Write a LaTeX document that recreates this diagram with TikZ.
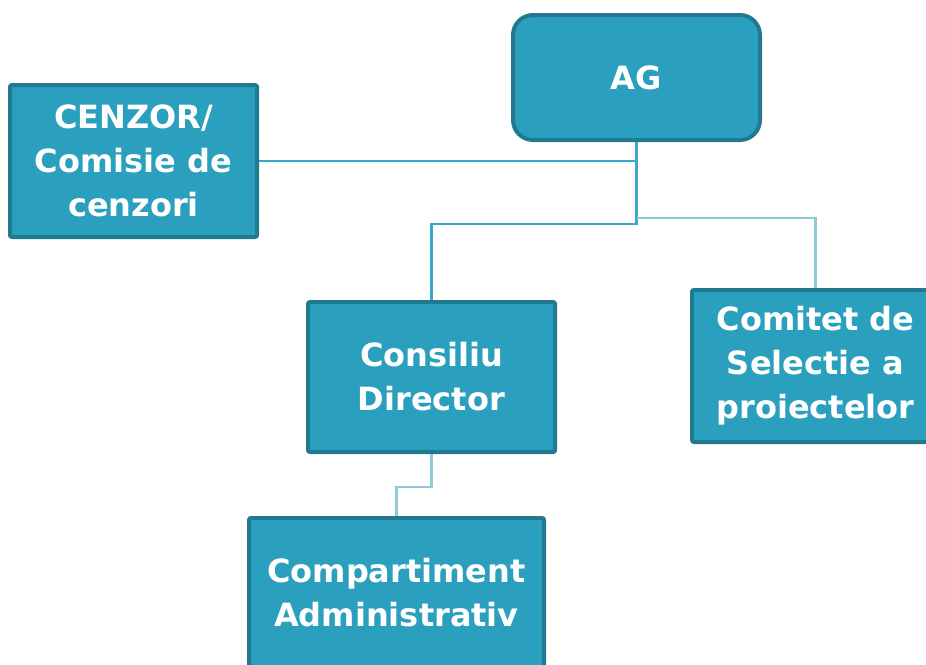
\documentclass[tikz,border=0pt]{standalone}
\usepackage{fontspec}
\setmainfont{DejaVu Sans}
\definecolor{boxfill}{RGB}{43,160,190}
\definecolor{boxline}{RGB}{33,122,145}
\definecolor{linkA}{RGB}{58,168,198}
\definecolor{linkB}{RGB}{140,203,220}
\tikzset{
  orgbox/.style={rectangle, draw=boxline, fill=boxfill, line width=4pt,
    rounded corners=2pt, text=white, align=center,
    font=\fontsize{32}{44}\selectfont\bfseries,
    minimum width=247pt, minimum height=150pt, inner sep=0pt},
  link/.style={draw=linkA, line width=2.2pt},
  linklight/.style={draw=linkB, line width=2.2pt}
}
\begin{document}
\begin{tikzpicture}[x=1pt,y=-1pt]
    \useasboundingbox (0,0) rectangle (926,664);
    \node[orgbox, rounded corners=20pt, minimum height=125pt] (AG) at (636.5,77.5) {AG};
    \node[orgbox, minimum height=152pt] (cenzor) at (133.5,161) {CENZOR/\\Comisie de\\cenzori};
    \node[orgbox] (consiliu) at (431.5,377) {Consiliu\\Director};
    \node[orgbox, minimum height=152pt] (comitet) at (815.5,366) {Comitet de\\Selectie a\\proiectelor};
    \node[orgbox, minimum width=295pt] (compart) at (396.5,593) {Compartiment\\Administrativ};
    \draw[link] (cenzor.east) -- (cenzor.east -| AG.south);
    \draw[link] (AG.south) -- ++(0,82) -| (consiliu.north);
    \draw[linklight] ([yshift=-76pt]AG.south) -| (comitet.north);
    \draw[linklight] (consiliu.south) -- ++(0,33) -| (compart.north);
\end{tikzpicture}
\end{document}
